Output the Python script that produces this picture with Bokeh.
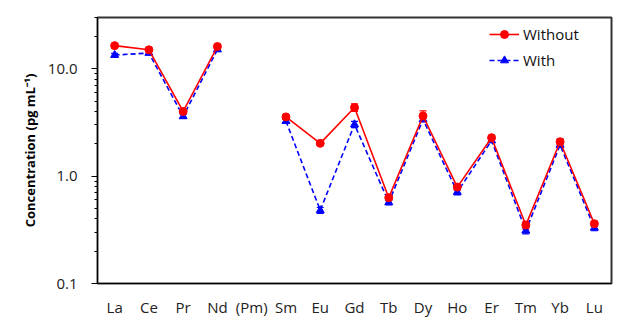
import math
from bokeh.plotting import figure
from bokeh.models import (ColumnDataSource, Range1d, FixedTicker, PrintfTickFormatter,
                          Whisker, TeeHead, Legend, LegendItem)
from bokeh.embed import file_html
from bokeh.resources import INLINE

elements = ["La", "Ce", "Pr", "Nd", "(Pm)", "Sm", "Eu", "Gd", "Tb", "Dy", "Ho", "Er", "Tm", "Yb", "Lu"]
without_vals = [16.4, 15.0, 4.0, 16.1, None, 3.56, 2.02, 4.35, 0.63, 3.63, 0.79, 2.28, 0.35, 2.09, 0.36]
without_err = [0.6, 0.5, 0.15, 0.6, None, 0.15, 0.08, 0.35, 0.04, 0.42, 0.05, 0.08, 0.03, 0.13, 0.02]
with_vals = [13.4, 14.0, 3.6, 15.1, None, 3.25, 0.48, 3.03, 0.57, 3.37, 0.71, 2.14, 0.31, 1.95, 0.33]
with_err = [0.5, 0.5, 0.15, 0.5, None, 0.12, 0.03, 0.2, 0.03, 0.15, 0.04, 0.07, 0.02, 0.1, 0.02]
major_ticks = [0.1, 1.0, 10.0]
minor_ticks = [0.2, 0.3, 0.4, 0.5, 0.6, 0.7, 0.8, 0.9, 2, 3, 4, 5, 6, 7, 8, 9, 20, 30]

FONT = "Open Sans"
RED = "#FF0000"
BLUE = "#0000FF"

def nanify(v):
    return [float("nan") if x is None else x for x in v]

src = ColumnDataSource(dict(x=elements, wo=nanify(without_vals), wi=nanify(with_vals)))

def err_source(vals, errs):
    xs, up, lo = [], [], []
    for e, v, d in zip(elements, vals, errs):
        if v is None:
            continue
        xs.append(e); up.append(v + d); lo.append(v - d)
    return ColumnDataSource(dict(x=xs, upper=up, lower=lo))

p = figure(width=619, height=319, x_range=elements, y_range=Range1d(0.1, 30),
           y_axis_type="log", output_backend="svg", toolbar_location=None,
           min_border_left=97, min_border_right=8, min_border_top=17, min_border_bottom=34)

p.xgrid.visible = False
p.ygrid.visible = False
p.outline_line_color = "#333333"
p.outline_line_width = 2
p.background_fill_color = "white"
p.border_fill_color = "white"

# error bars
for vals, errs, col in [(without_vals, without_err, RED), (with_vals, with_err, BLUE)]:
    w = Whisker(source=err_source(vals, errs), base="x", upper="upper", lower="lower",
                dimension="height", line_color=col, line_width=1.2,
                upper_head=TeeHead(size=7, line_color=col, line_width=1.2),
                lower_head=TeeHead(size=7, line_color=col, line_width=1.2))
    p.add_layout(w)

l_wi = p.line("x", "wi", source=src, line_color=BLUE, line_width=1.6, line_dash="5 3")
m_wi = p.scatter("x", "wi", source=src, marker="triangle", size=8, fill_color=BLUE, line_color=BLUE)
l_wo = p.line("x", "wo", source=src, line_color=RED, line_width=1.6)
m_wo = p.scatter("x", "wo", source=src, marker="circle", size=8, fill_color=RED, line_color=RED)

legend = Legend(items=[LegendItem(label="Without", renderers=[l_wo, m_wo]),
                       LegendItem(label="With", renderers=[l_wi, m_wi])],
                location=(392, 213), border_line_color=None, background_fill_alpha=0,
                label_text_font=FONT, label_text_font_size="15px", label_text_color="#111111",
                glyph_width=30, glyph_height=20, spacing=6, padding=5, label_standoff=4)
p.add_layout(legend)

# y axis
ya = p.yaxis[0]
ya.ticker = FixedTicker(ticks=major_ticks, minor_ticks=minor_ticks)
ya.formatter = PrintfTickFormatter(format="%.1f")
ya.major_tick_out = 6
ya.major_tick_in = 0
ya.minor_tick_out = 3
ya.minor_tick_in = 0
ya.axis_line_color = "black"
ya.major_tick_line_color = "black"
ya.minor_tick_line_color = "black"
ya.major_label_text_font = FONT
ya.major_label_text_font_size = "15px"
ya.major_label_text_color = "#222222"
ya.major_label_standoff = 14
ya.axis_label = "Concentration (pg mL\u207b\u00b9)"
ya.axis_label_text_font = FONT
ya.axis_label_text_font_size = "13px"
ya.axis_label_text_font_style = "bold"
ya.axis_label_text_color = "black"
ya.axis_label_standoff = 6

xa = p.xaxis[0]
xa.major_tick_out = 0
xa.major_tick_in = 0
xa.minor_tick_out = 0
xa.axis_line_color = "black"
xa.major_label_text_font = FONT
xa.major_label_text_font_size = "15px"
xa.major_label_text_color = "#222222"
xa.major_label_standoff = 13

open("out.html", "w").write(file_html(p, INLINE))
